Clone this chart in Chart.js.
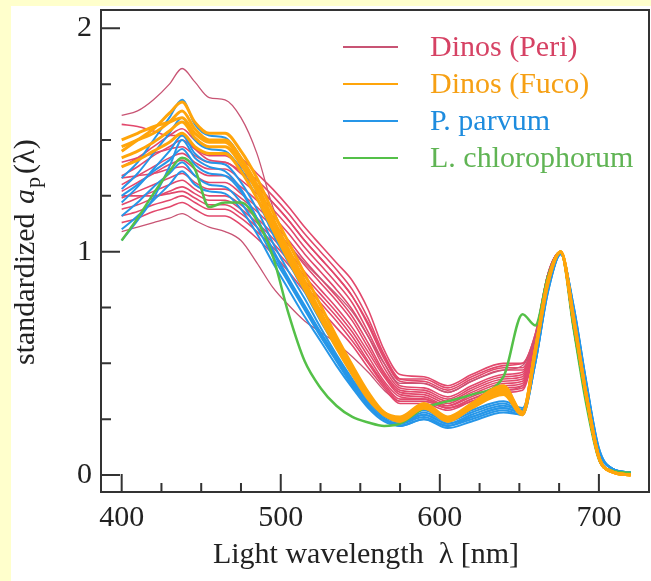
<!DOCTYPE html>
<html>
<head>
<meta charset="utf-8">
<title>standardized ap spectra</title>
<script src="https://cdn.jsdelivr.net/npm/chart.js@4.4.0/dist/chart.umd.min.js"></script>
<style>
  html, body { margin: 0; padding: 0; background: #ffffcc; }
  #wrap { position: absolute; left: 11px; top: 6px; width: 640px; height: 575px; background: #fff; }
</style>
</head>
<body>
<div id="wrap"><canvas id="spec" width="640" height="575"></canvas></div>
<script>
/* 規格化吸収スペクトル: 渦鞭毛藻ほか */

const WL = [400, 410, 420, 430, 438, 446, 455, 465, 475, 485, 495, 505, 515, 525, 535, 545,
  555, 565, 575, 590, 605, 620, 640, 652, 660, 668, 676, 684, 692, 700, 708, 720];

const X_MAJOR = [400, 500, 600, 700];
const X_MINOR = [425, 450, 475, 525, 550, 575, 625, 650, 675];
const Y_MAJOR = [0, 1, 2];
const Y_MINOR = [0.25, 0.5, 0.75, 1.25, 1.5, 1.75];

const LEGEND_LABELS = ["Dinos (Peri)", "Dinos (Fuco)", "P. parvum", "L. chlorophorum"];
const X_TITLE = "Light wavelength  \u03bb [nm]";

// Dinos (Peri) — 最初と最後は細い外れ値
const PERI = [
  [1.61,1.63,1.68,1.75,1.82,1.76,1.69,1.68,1.60,1.44,1.20,1.04,0.95,0.88,0.81,0.73,0.62,0.50,0.41,0.41,0.37,0.42,0.47,0.49,0.62,0.90,1.00,0.66,0.33,0.07,0.02,0.01],
  [1.57,1.56,1.54,1.52,1.52,1.46,1.41,1.40,1.36,1.30,1.22,1.14,1.05,0.97,0.89,0.80,0.68,0.53,0.43,0.43,0.39,0.44,0.49,0.50,0.63,0.90,1.00,0.66,0.33,0.07,0.02,0.01],
  [1.38,1.42,1.47,1.52,1.55,1.50,1.47,1.47,1.42,1.35,1.28,1.20,1.11,1.03,0.95,0.87,0.74,0.56,0.45,0.44,0.40,0.45,0.50,0.50,0.63,0.90,1.00,0.66,0.33,0.07,0.02,0.01],
  [1.34,1.38,1.43,1.47,1.50,1.46,1.43,1.43,1.38,1.32,1.25,1.17,1.08,1.00,0.92,0.83,0.70,0.54,0.43,0.42,0.38,0.43,0.48,0.48,0.62,0.90,1.00,0.66,0.33,0.07,0.02,0.01],
  [1.40,1.42,1.44,1.46,1.47,1.43,1.40,1.40,1.35,1.29,1.22,1.14,1.05,0.97,0.89,0.80,0.67,0.52,0.42,0.41,0.37,0.42,0.47,0.47,0.62,0.90,1.00,0.66,0.33,0.07,0.02,0.01],
  [1.30,1.34,1.38,1.42,1.44,1.40,1.37,1.37,1.32,1.26,1.19,1.11,1.02,0.94,0.86,0.77,0.64,0.50,0.40,0.39,0.35,0.40,0.45,0.46,0.61,0.89,1.00,0.67,0.33,0.07,0.02,0.01],
  [1.27,1.31,1.35,1.39,1.41,1.37,1.34,1.34,1.29,1.23,1.16,1.08,0.99,0.91,0.83,0.74,0.62,0.48,0.39,0.38,0.34,0.39,0.44,0.45,0.61,0.89,1.00,0.67,0.33,0.07,0.02,0.01],
  [1.33,1.34,1.35,1.37,1.38,1.34,1.31,1.31,1.26,1.20,1.13,1.05,0.96,0.88,0.80,0.71,0.59,0.46,0.38,0.37,0.33,0.38,0.43,0.44,0.60,0.89,1.00,0.67,0.34,0.07,0.02,0.01],
  [1.24,1.27,1.30,1.33,1.35,1.31,1.28,1.28,1.24,1.18,1.11,1.03,0.94,0.86,0.78,0.69,0.57,0.45,0.37,0.36,0.32,0.37,0.42,0.43,0.60,0.88,1.00,0.67,0.34,0.08,0.02,0.01],
  [1.21,1.24,1.27,1.30,1.32,1.28,1.25,1.25,1.21,1.15,1.08,1.00,0.91,0.83,0.75,0.66,0.55,0.44,0.36,0.35,0.31,0.36,0.41,0.42,0.60,0.88,1.00,0.67,0.34,0.08,0.02,0.01],
  [1.19,1.21,1.24,1.27,1.29,1.26,1.23,1.23,1.19,1.13,1.06,0.98,0.89,0.81,0.73,0.64,0.53,0.42,0.35,0.34,0.31,0.35,0.40,0.41,0.59,0.88,1.00,0.68,0.34,0.08,0.02,0.01],
  [1.25,1.25,1.25,1.26,1.27,1.24,1.21,1.21,1.17,1.11,1.04,0.96,0.87,0.79,0.71,0.62,0.51,0.41,0.34,0.34,0.30,0.34,0.39,0.40,0.59,0.88,1.00,0.68,0.34,0.08,0.02,0.01],
  [1.16,1.18,1.21,1.23,1.25,1.22,1.19,1.19,1.15,1.09,1.02,0.94,0.85,0.77,0.69,0.60,0.50,0.40,0.33,0.33,0.30,0.33,0.38,0.39,0.58,0.87,1.00,0.68,0.34,0.08,0.02,0.01],
  [1.13,1.15,1.18,1.20,1.22,1.19,1.16,1.16,1.12,1.06,0.99,0.91,0.82,0.74,0.66,0.58,0.48,0.39,0.32,0.32,0.29,0.33,0.37,0.38,0.58,0.87,1.00,0.68,0.34,0.08,0.02,0.01],
  [1.09,1.11,1.13,1.15,1.17,1.14,1.11,1.09,1.05,0.95,0.84,0.76,0.69,0.64,0.59,0.53,0.46,0.38,0.33,0.33,0.30,0.34,0.38,0.40,0.58,0.87,1.00,0.68,0.34,0.08,0.02,0.01],
];

// Dinos (Fuco)
const FUCO = [
  [1.45,1.50,1.55,1.62,1.67,1.58,1.53,1.53,1.45,1.33,1.18,1.04,0.90,0.76,0.62,0.49,0.37,0.28,0.26,0.32,0.26,0.32,0.40,0.28,0.56,0.87,1.00,0.70,0.36,0.08,0.015,0.00],
  [1.47,1.50,1.53,1.58,1.63,1.55,1.50,1.50,1.42,1.30,1.15,1.01,0.87,0.73,0.60,0.47,0.36,0.28,0.25,0.31,0.25,0.31,0.38,0.28,0.56,0.87,1.00,0.70,0.36,0.08,0.015,0.00],
  [1.42,1.45,1.49,1.54,1.58,1.51,1.47,1.47,1.39,1.27,1.12,0.98,0.85,0.71,0.58,0.46,0.35,0.27,0.25,0.30,0.25,0.30,0.37,0.27,0.55,0.86,1.00,0.71,0.36,0.08,0.015,0.00],
  [1.38,1.41,1.45,1.49,1.53,1.47,1.44,1.44,1.36,1.24,1.10,0.96,0.83,0.70,0.57,0.45,0.34,0.27,0.24,0.30,0.24,0.30,0.36,0.27,0.55,0.86,1.00,0.71,0.36,0.08,0.015,0.00],
  [1.50,1.53,1.56,1.58,1.60,1.53,1.49,1.49,1.41,1.29,1.14,1.00,0.86,0.72,0.59,0.46,0.35,0.27,0.25,0.31,0.25,0.31,0.39,0.28,0.56,0.87,1.00,0.70,0.36,0.08,0.015,0.00],
];

// P. parvum
const PARVUM = [
  [1.33,1.40,1.50,1.60,1.68,1.57,1.52,1.51,1.42,1.28,1.12,0.98,0.85,0.72,0.60,0.47,0.36,0.28,0.25,0.29,0.25,0.29,0.33,0.30,0.52,0.84,0.99,0.74,0.40,0.11,0.03,0.01],
  [1.28,1.35,1.44,1.53,1.60,1.50,1.46,1.45,1.37,1.24,1.08,0.95,0.82,0.69,0.57,0.45,0.34,0.27,0.24,0.28,0.24,0.28,0.32,0.29,0.52,0.84,0.99,0.74,0.40,0.11,0.03,0.01],
  [1.22,1.29,1.37,1.45,1.52,1.44,1.40,1.39,1.31,1.19,1.04,0.91,0.79,0.66,0.54,0.43,0.33,0.26,0.24,0.27,0.23,0.27,0.31,0.29,0.51,0.83,0.99,0.75,0.41,0.11,0.03,0.01],
  [1.25,1.30,1.36,1.41,1.46,1.39,1.35,1.34,1.27,1.15,1.01,0.88,0.76,0.64,0.53,0.42,0.32,0.25,0.23,0.27,0.23,0.26,0.30,0.28,0.51,0.83,0.99,0.75,0.41,0.11,0.03,0.01],
  [1.16,1.22,1.29,1.35,1.40,1.34,1.30,1.29,1.22,1.11,0.98,0.86,0.74,0.62,0.51,0.40,0.31,0.25,0.23,0.26,0.22,0.26,0.30,0.28,0.50,0.83,0.99,0.75,0.41,0.11,0.03,0.01],
  [1.10,1.16,1.23,1.30,1.36,1.30,1.27,1.26,1.19,1.08,0.95,0.83,0.71,0.60,0.49,0.39,0.30,0.24,0.22,0.25,0.22,0.25,0.29,0.27,0.50,0.82,0.99,0.76,0.42,0.12,0.03,0.01],
  [1.05,1.14,1.24,1.38,1.50,1.42,1.38,1.36,1.28,1.15,1.00,0.87,0.75,0.63,0.52,0.41,0.31,0.25,0.22,0.25,0.21,0.24,0.28,0.27,0.50,0.82,0.99,0.76,0.42,0.12,0.03,0.01],
];

// L. chlorophorum
const CHLORO = [
  [1.05,1.15,1.26,1.36,1.42,1.37,1.20,1.22,1.22,1.14,0.98,0.72,0.51,0.39,0.31,0.26,0.235,0.22,0.23,0.30,0.33,0.36,0.44,0.72,0.67,0.89,1.00,0.66,0.32,0.07,0.02,0.01],
];

const SERIF = "'Liberation Serif', 'Times New Roman', serif";
const C_PERI = "rgb(226, 72, 108)";
const C_PERI_DARK = "rgb(200, 84, 116)";
const C_FUCO = "rgb(255, 165, 10)";
const C_PARVUM = "rgb(38, 150, 232)";
const C_CHLORO = "rgb(84, 192, 72)";
const LEGEND_LINE = [C_PERI_DARK, C_FUCO, C_PARVUM, C_CHLORO];
const LEGEND_TEXT = ["rgb(214, 66, 100)", "rgb(246, 160, 20)", "rgb(30, 140, 222)", "rgb(96, 180, 84)"];

function series(vals, color, width) {
  return {
    data: vals.map((v, i) => ({ x: WL[i], y: v })),
    borderColor: color,
    borderWidth: width,
    pointRadius: 0,
    fill: false,
    cubicInterpolationMode: "monotone",
  };
}

// 先頭のデータセットが一番上に描かれる
const datasets = [
  ...FUCO.map((v) => series(v, C_FUCO, 3)),
  ...CHLORO.map((v) => series(v, C_CHLORO, 2.5)),
  ...PARVUM.map((v) => series(v, C_PARVUM, 2)),
  ...PERI.map((v, i) => {
    const outlier = i === 0 || i === PERI.length - 1;
    return series(v, outlier ? C_PERI_DARK : C_PERI, outlier ? 1.3 : 1.6);
  }),
];

/* 枠と内向きの目盛り */
const frameTicks = {
  id: "frameTicks",
  afterDatasetsDraw(chart) {
    const { ctx, chartArea: a, scales: { x, y } } = chart;
    ctx.save();
    ctx.strokeStyle = "#333";
    ctx.lineWidth = 2;
    ctx.strokeRect(a.left, a.top, a.right - a.left, a.bottom - a.top);
    ctx.beginPath();
    const xt = (v, len) => { const p = x.getPixelForValue(v); ctx.moveTo(p, a.bottom); ctx.lineTo(p, a.bottom - len); };
    const yt = (v, len) => { const p = y.getPixelForValue(v); ctx.moveTo(a.left, p); ctx.lineTo(a.left + len, p); };
    X_MAJOR.forEach((v) => xt(v, 18));
    X_MINOR.forEach((v) => xt(v, 9));
    Y_MAJOR.forEach((v) => yt(v, 19));
    Y_MINOR.forEach((v) => yt(v, 10));
    ctx.stroke();
    ctx.restore();
  },
};

/* 軸タイトル (斜体 a と下付き p) と凡例 */
const annotations = {
  id: "annotations",
  afterDraw(chart) {
    const ctx = chart.ctx;
    ctx.save();
    ctx.fillStyle = "#222";
    ctx.font = "30px " + SERIF;
    ctx.textAlign = "center";
    ctx.textBaseline = "middle";
    ctx.fillText(X_TITLE, 355, 549);
    ctx.restore();

    // 縦軸: 下端から上へ
    ctx.save();
    ctx.translate(15, 359);
    ctx.rotate(-Math.PI / 2);
    ctx.fillStyle = "#222";
    ctx.textBaseline = "middle";
    const parts = [
      ["standardized ", "30px " + SERIF, 0, 2],
      ["a", "italic 30px " + SERIF, 0, 1],
      ["p", "22px " + SERIF, 8, 3],
      ["(\u03bb)", "30px " + SERIF, 0, 0],
    ];
    let px = 0;
    parts.forEach((p) => {
      ctx.font = p[1];
      ctx.fillText(p[0], px, p[2]);
      px += ctx.measureText(p[0]).width + p[3];
    });
    ctx.restore();

    ctx.save();
    ctx.font = "30px " + SERIF;
    ctx.textBaseline = "middle";
    LEGEND_LABELS.forEach((lab, i) => {
      const yy = 41 + i * 37;
      ctx.strokeStyle = LEGEND_LINE[i];
      ctx.lineWidth = 2;
      ctx.beginPath();
      ctx.moveTo(332, yy);
      ctx.lineTo(387, yy);
      ctx.stroke();
      ctx.fillStyle = LEGEND_TEXT[i];
      ctx.fillText(lab, 419, yy + 1);
    });
    ctx.restore();
  },
};

new Chart(document.getElementById("spec"), {
  type: "line",
  data: { datasets },
  options: {
    responsive: false,
    animation: false,
    layout: { padding: { left: 0, top: 4, right: 2, bottom: 0 } },
    plugins: { legend: { display: false }, tooltip: { enabled: false } },
    scales: {
      x: {
        type: "linear",
        min: 387,
        max: 731.5,
        afterBuildTicks: (s) => { s.ticks = X_MAJOR.map((v) => ({ value: v })); },
        afterFit: (s) => { s.height = 89; s.paddingLeft = 0; s.paddingRight = 0; },
        grid: { display: false, drawTicks: false },
        border: { display: false },
        ticks: { font: { family: SERIF, size: 30 }, color: "#222", padding: 8, maxRotation: 0, autoSkip: false },
      },
      y: {
        min: -0.076,
        max: 2.082,
        afterBuildTicks: (s) => { s.ticks = Y_MAJOR.map((v) => ({ value: v })); },
        afterFit: (s) => { s.width = 90; s.paddingTop = 0; s.paddingBottom = 0; },
        grid: { display: false, drawTicks: false },
        border: { display: false },
        ticks: { font: { family: SERIF, size: 30 }, color: "#222", padding: 9 },
      },
    },
  },
  plugins: [frameTicks, annotations],
});
</script>
</body>
</html>
